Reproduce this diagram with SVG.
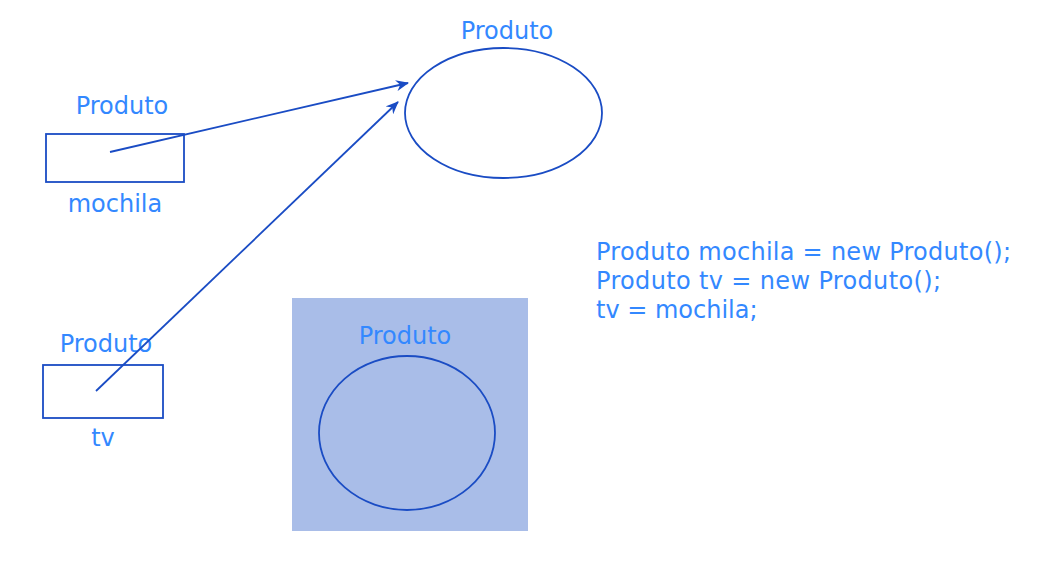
<svg xmlns="http://www.w3.org/2000/svg" width="1040" height="566" viewBox="0 0 1040 566">
<style>
.t{font-family:"DejaVu Sans",Verdana,sans-serif;font-size:24px;fill:#3388ff}
.c{text-anchor:middle}
.s{fill:none;stroke:#1a4cc4;stroke-width:1.8}
</style>
<defs>
<marker id="a" markerWidth="13" markerHeight="11" refX="12" refY="5.5" orient="auto" markerUnits="userSpaceOnUse">
<path d="M0,0 L13,5.5 L0,11 L4,5.5 z" fill="#1a4cc4"/>
</marker>
</defs>
<rect width="1040" height="566" fill="#ffffff"/>
<g id="obj1">
<ellipse class="s" cx="503.5" cy="113" rx="98.5" ry="65"/>
<text class="t c" x="507" y="39">Produto</text>
</g>
<g id="mochila">
<rect class="s" x="46" y="134" width="138" height="48"/>
<text class="t c" x="122" y="114">Produto</text>
<text class="t c" x="115" y="212">mochila</text>
</g>
<g id="tv">
<rect class="s" x="43" y="365" width="120" height="53"/>
<text class="t c" x="106" y="352">Produto</text>
<text class="t c" x="103" y="446">tv</text>
</g>
<g id="obj2">
<rect x="292" y="298" width="236" height="233" fill="#a9bde8"/>
<ellipse class="s" cx="407" cy="433" rx="88" ry="77"/>
<text class="t c" x="405" y="344" fill="#2a80f0">Produto</text>
</g>
<g id="code">
<text class="t" x="596" y="260" textLength="415" lengthAdjust="spacing">Produto mochila = new Produto();</text>
<text class="t" x="596" y="289" textLength="345" lengthAdjust="spacing">Produto tv = new Produto();</text>
<text class="t" x="596" y="318">tv = mochila;</text>
</g>
<g id="connectors">
<line class="s" x1="110" y1="152" x2="408" y2="83" marker-end="url(#a)"/>
<line class="s" x1="96" y1="391" x2="398" y2="102" marker-end="url(#a)"/>
</g>
</svg>
